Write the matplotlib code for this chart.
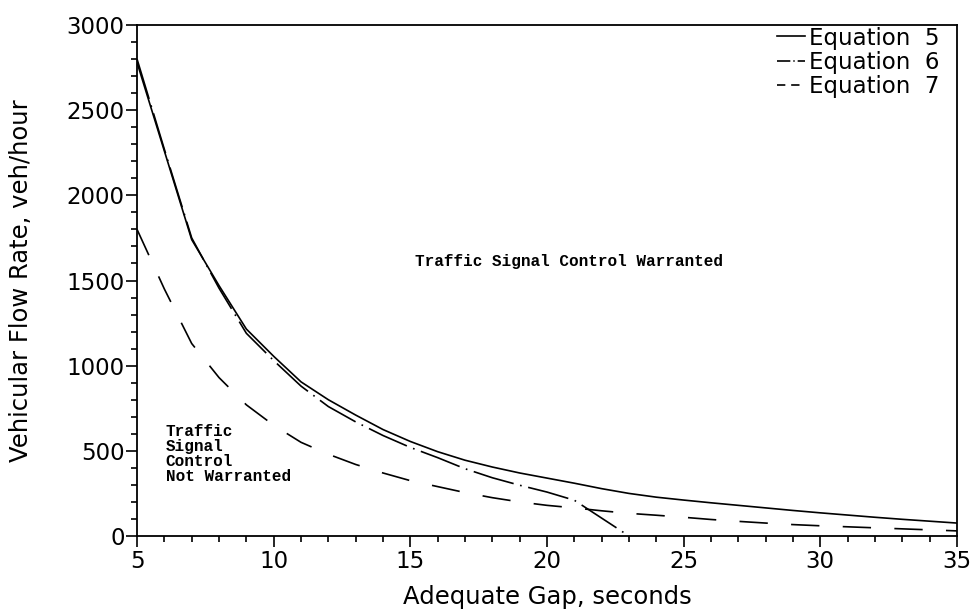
import matplotlib
matplotlib.use('Agg')
import matplotlib.pyplot as plt
from matplotlib.lines import Line2D
from matplotlib.ticker import MultipleLocator

# ── data ─────────────────────────────────────────────────────────────────────
gap_eq5 = [5, 6, 7, 8, 9, 10, 11, 12, 13, 14, 15, 16, 17, 18, 19, 20,
           21, 22, 23, 24, 25, 26, 27, 28, 29, 30, 31, 32, 33, 34, 35]
flow_eq5 = [2780, 2260, 1740, 1470, 1215, 1055, 905, 800, 710, 625, 555, 495, 445, 405, 370, 340,
            310, 278, 250, 228, 211, 195, 180, 165, 150, 136, 123, 110, 98, 87, 76]

gap_eq6 = [5, 6, 7, 8, 9, 10, 11, 12, 13, 14, 15, 16, 17, 18, 19, 20, 21, 22, 23]
flow_eq6 = [2800, 2270, 1750, 1455, 1190, 1030, 880, 760, 670, 590, 520, 460, 395, 342, 298, 258,
            210, 105, 0]

gap_eq7 = [5, 6, 7, 8, 9, 10, 11, 12, 13, 14, 15, 16, 17, 18, 19, 20,
           21, 22, 23, 24, 25, 26, 27, 28, 29, 30, 31, 32, 33, 34, 35]
flow_eq7 = [1800, 1450, 1130, 930, 770, 650, 550, 480, 420, 370, 325, 290, 255, 225, 200, 180,
            165, 148, 133, 122, 110, 97, 86, 76, 67, 60, 54, 48, 42, 36, 30]

labels = ["Equation  5", "Equation  6", "Equation  7"]

fig = plt.figure(figsize=(9.74, 6.10), dpi=100)
ax = fig.add_axes([0.1407, 0.1213, 0.8418, 0.8377])

lw = 1.2
ax.plot(gap_eq5, flow_eq5, color="black", lw=lw)
ax.plot(gap_eq6, flow_eq6, color="black", lw=lw, dashes=(25, 4, 1, 4))
ax.plot(gap_eq7, flow_eq7, color="black", lw=lw, dashes=(17, 14))

ax.set_xlim(5, 35)
ax.set_ylim(0, 3000)
ax.xaxis.set_major_locator(MultipleLocator(5))
ax.xaxis.set_minor_locator(MultipleLocator(1))
ax.yaxis.set_major_locator(MultipleLocator(500))
ax.yaxis.set_minor_locator(MultipleLocator(100))

ax.tick_params(which="both", direction="out", width=1.2, labelsize=16.5, colors="black")
ax.tick_params(which="major", length=8)
ax.tick_params(which="minor", length=4.5)
ax.tick_params(axis="y", which="major", pad=1)
ax.tick_params(axis="x", which="major", pad=2)
for s in ax.spines.values():
    s.set_linewidth(1.3)

ax.set_xlabel("Adequate Gap, seconds", fontsize=17.5, labelpad=9)
ax.set_ylabel("Vehicular Flow Rate, veh/hour", fontsize=17.5, labelpad=24)

mono = dict(family="Liberation Mono", fontweight="bold", fontsize=11.5)
ax.text(20.8, 1610, "Traffic Signal Control Warranted", ha="center", va="center", **mono)
ax.text(6.05, 655, "Traffic\nSignal\nControl\nNot Warranted", ha="left", va="top",
        linespacing=1.0, **mono)

# short legend keys like the original: "—", "—·-", "- -"
handles = [
    Line2D([], [], color="black", lw=lw),
    Line2D([], [], color="black", lw=lw, dashes=(8, 1.8, 0.8, 1.8)),
    Line2D([], [], color="black", lw=lw, dashes=(5, 3.5)),
]
ax.legend(handles, labels, loc="upper right", frameon=False, fontsize=16.5,
          handlelength=1.2, handletextpad=0.2, labelspacing=0.05,
          borderaxespad=0.0, bbox_to_anchor=(0.99, 1.015))

fig.savefig("out.png", dpi=100)
